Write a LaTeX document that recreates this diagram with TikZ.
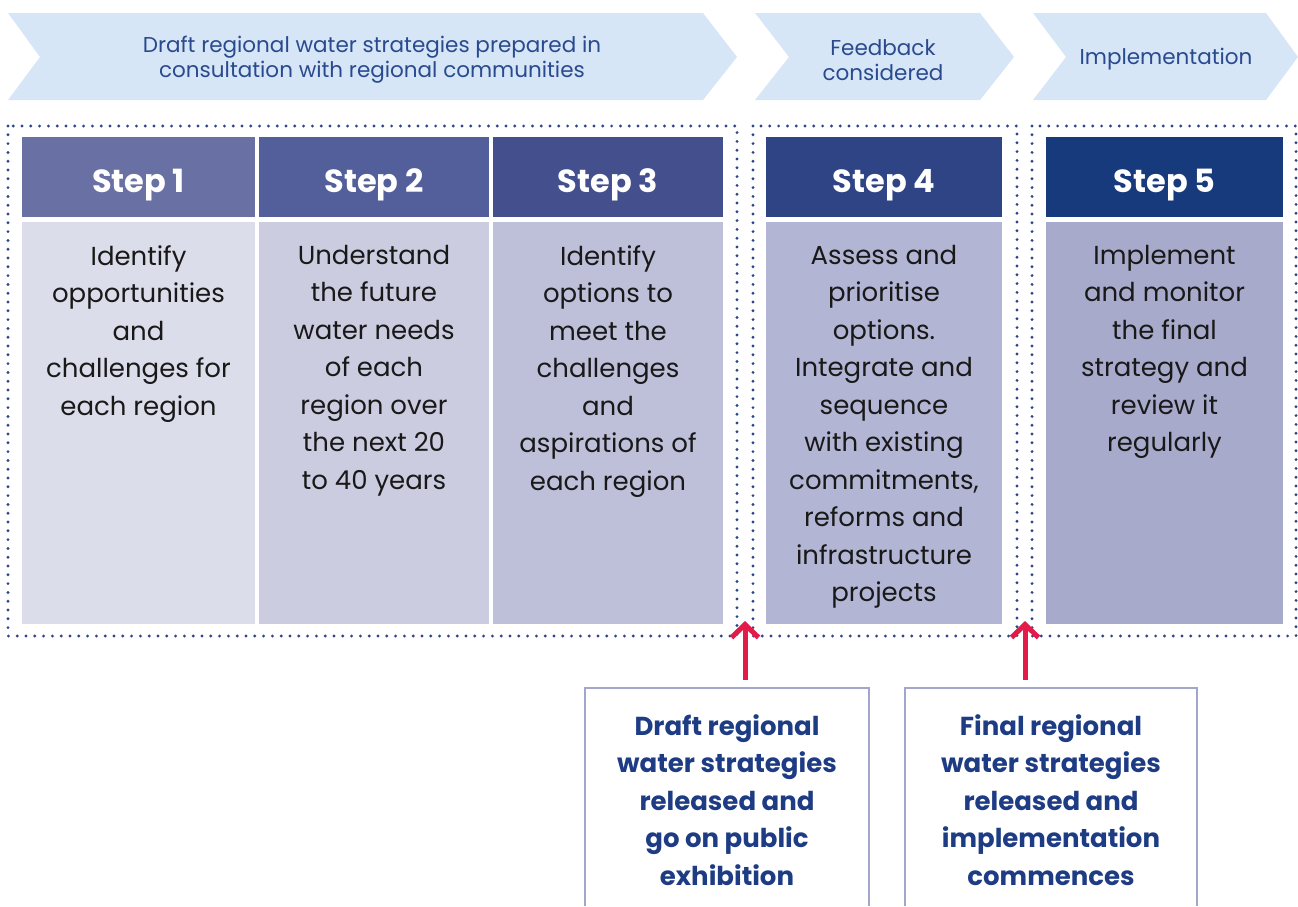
\documentclass[tikz,border=0pt]{standalone}
\usepackage{fontspec}
\setmainfont{Poppins}
\usetikzlibrary{arrows.meta}

\definecolor{chevfill}{HTML}{D6E6F6}
\definecolor{chevtext}{HTML}{2A4A8F}
\definecolor{dotblue}{HTML}{2C468C}
\definecolor{headA}{HTML}{6970A3}
\definecolor{headB}{HTML}{525F9A}
\definecolor{headC}{HTML}{44508E}
\definecolor{headD}{HTML}{2E4485}
\definecolor{headE}{HTML}{173A7D}
\definecolor{bodyA}{HTML}{DCDDEA}
\definecolor{bodyB}{HTML}{CBCCE0}
\definecolor{bodyC}{HTML}{BEC0DA}
\definecolor{bodyD}{HTML}{B2B5D3}
\definecolor{bodyE}{HTML}{A7AACB}
\definecolor{arrowred}{HTML}{E31B48}
\definecolor{noteline}{HTML}{A3A6CB}
\definecolor{notetext}{HTML}{1E3C84}

\begin{document}
\begin{tikzpicture}[x=1pt,y=-1pt,
  head/.style={fill=#1, text=white, font=\bfseries\fontsize{32}{36}\selectfont,
    minimum height=80pt, inner sep=0pt, text height=30pt, text depth=0pt},
  body/.style={fill=#1, minimum height=402pt, inner sep=0pt},
  bodytext/.style={anchor=north, align=center, inner sep=0pt,
    font=\fontsize{26}{37.5}\selectfont, text=black!90},
  chevlabel/.style={align=center, text=chevtext, font=\fontsize{21.5}{25}\selectfont},
  dotframe/.style={draw=dotblue, line width=3.2pt, line cap=round,
    dash pattern=on 0pt off 8.8pt},
  notebox/.style={draw=noteline, line width=2pt},
  notelabel/.style={anchor=north, align=center, inner sep=0pt, text=notetext,
    font=\bfseries\fontsize{26}{37.5}\selectfont},
  uparrow/.style={draw=arrowred, line width=5pt,
    -{Straight Barb[length=13pt,width=27pt,line width=5pt]}}]
\useasboundingbox (0,0) rectangle (1298,906);

% Phase chevrons along the top
\fill[chevfill] (8,13) -- (703,13) -- (737,57) -- (703,100) -- (8,100) -- (40,57) -- cycle;
\fill[chevfill] (755,13) -- (980,13) -- (1014,57) -- (980,100) -- (755,100) -- (789,57) -- cycle;
\fill[chevfill] (1033,13) -- (1266,13) -- (1298,57) -- (1266,100) -- (1033,100) -- (1066,57) -- cycle;
\node[chevlabel] (phase1) at (372,60) {Draft regional water strategies prepared in\\consultation with regional communities};
\node[chevlabel] (phase2) at (883,60) {Feedback\\considered};
\node[chevlabel] (phase3) at (1166,59) {Implementation};

% Dotted frames round each phase
\draw[dotframe] (8,126) rectangle (737,636);
\draw[dotframe] (753,126) rectangle (1017,636);
\draw[dotframe] (1032,126) rectangle (1296,636);

% Step headers
\node[head=headA, minimum width=233pt] (s1) at (138.5,177) {Step 1};
\node[head=headB, minimum width=230pt] (s2) at (374,177) {Step 2};
\node[head=headC, minimum width=230pt] (s3) at (608,177) {Step 3};
\node[head=headD, minimum width=236pt] (s4) at (884,177) {Step 4};
\node[head=headE, minimum width=237pt] (s5) at (1164.5,177) {Step 5};

% Step bodies
\node[body=bodyA, minimum width=233pt] (b1) at (138.5,423) {};
\node[body=bodyB, minimum width=230pt] (b2) at (374,423) {};
\node[body=bodyC, minimum width=230pt] (b3) at (608,423) {};
\node[body=bodyD, minimum width=236pt] (b4) at (884,423) {};
\node[body=bodyE, minimum width=237pt] (b5) at (1164.5,423) {};

\node[bodytext] (t1) at (138.5,245) {Identify\\opportunities\\and\\challenges for\\each region};
\node[bodytext] (t2) at (374,245) {Understand\\the future\\water needs\\of each\\region over\\the next 20\\to 40 years};
\node[bodytext] (t3) at (608,245) {Identify\\options to\\meet the\\challenges\\and\\aspirations of\\each region};
\node[bodytext] (t4) at (884,245) {Assess and\\prioritise\\options.\\Integrate and\\sequence\\with existing\\commitments,\\reforms and\\infrastructure\\projects};
\node[bodytext] (t5) at (1164.5,245) {Implement\\and monitor\\the final\\strategy and\\review it\\regularly};

% Release notes below
\draw[notebox] (585,906) -- (585,688) -- (869,688) -- (869,906);
\draw[notebox] (905,906) -- (905,688) -- (1197,688) -- (1197,906);
\node[notelabel] (n1) at (727,714) {Draft regional\\water strategies\\released and\\go on public\\exhibition};
\node[notelabel] (n2) at (1051,714) {Final regional\\water strategies\\released and\\implementation\\commences};

% Arrows up to the gaps
\coordinate (a1) at (745,680);
\coordinate (h1) at (745,621);
\coordinate (a2) at (1025,680);
\coordinate (h2) at (1025,621);
\draw[uparrow] (a1) -- (h1);
\draw[uparrow] (a2) -- (h2);
\end{tikzpicture}
\end{document}
